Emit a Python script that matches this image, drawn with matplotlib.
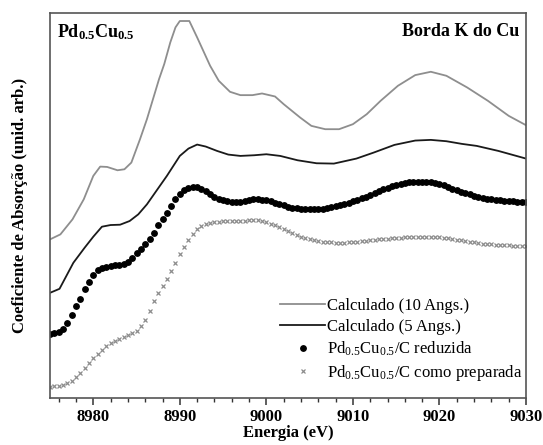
import numpy as np
import matplotlib
matplotlib.use("Agg")
import matplotlib.pyplot as plt
from matplotlib.ticker import MultipleLocator

plt.rcParams['font.family'] = ['Liberation Serif', 'DejaVu Serif']
plt.rcParams['mathtext.fontset'] = 'custom'
plt.rcParams['mathtext.rm'] = 'Liberation Serif'
plt.rcParams['mathtext.bf'] = 'Liberation Serif:bold'
plt.rcParams['mathtext.default'] = 'regular'

# ---- data (arbitrary absorption units) ----
e_calc10 = [8975, 8976.2, 8977.6, 8978.9, 8980, 8980.8, 8981.6, 8982.8, 8983.6, 8984.4,
            8985.4, 8986.2, 8986.9, 8987.6, 8988.2, 8988.9, 8989.5, 8990, 8991.1, 8992,
            8993.5, 8994.5, 8995.8, 8997, 8998.4, 8999.5, 9001, 9002, 9003.9, 9005.2,
            9006.8, 9008.4, 9010, 9011.6, 9013.2, 9015.2, 9017.2, 9019, 9020.8, 9023.2,
            9025.6, 9028, 9030]
v_calc10 = [475, 490, 535, 595, 665, 693, 692, 682, 685, 705,
            775, 835, 895, 955, 1000, 1065, 1110, 1129, 1129, 1080,
            995, 950, 917, 907, 907, 912, 903, 880, 840, 815,
            805, 805, 820, 850, 890, 935, 967, 977, 965, 930,
            890, 845, 817]

e_calc5 = [8975, 8976.1, 8977.7, 8979, 8980, 8981, 8982, 8983.1, 8984.2, 8985.2,
           8986.2, 8987.2, 8988.5, 8990, 8991, 8992, 8993, 8994.3, 8995.6, 8997,
           8998.6, 9000, 9001.6, 9003.6, 9005.8, 9007.8, 9010.4, 9012.4, 9014.8, 9017.2,
           9019, 9020.8, 9022.6, 9024.3, 9026.8, 9030]
v_calc5 = [315, 327, 405, 450, 483, 513, 518, 519, 530, 550,
           580, 617, 665, 725, 747, 759, 753, 740, 729, 725,
           727, 730, 725, 712, 703, 702, 717, 735, 758, 771,
           773, 769, 761, 755, 740, 717]

e_exp = np.arange(8975.0, 9030.01, 0.5)
v_reduzida = [193, 195, 199, 207, 225, 250, 275, 295, 325, 347,
              367, 383, 390, 393, 395, 397, 398, 401, 408, 418,
              433, 447, 460, 475, 495, 517, 535, 555, 575, 595,
              610, 622, 630, 633, 632, 627, 620, 611, 603, 597,
              592, 589, 587, 587, 588, 591, 594, 595, 595, 594,
              592, 589, 585, 581, 577, 573, 570, 568, 567, 566,
              566, 566, 567, 567, 569, 571, 574, 577, 581, 585,
              589, 593, 598, 603, 609, 615, 620, 625, 630, 634,
              638, 641, 644, 646, 647, 648, 648, 647, 646, 644,
              641, 637, 632, 627, 622, 618, 614, 610, 606, 603,
              600, 597, 595, 593, 592, 590, 589, 589, 588, 588,
              587]
v_preparada = [33, 35, 37, 40, 45, 52, 63, 75, 90, 105,
               120, 133, 145, 155, 164, 171, 177, 183, 188, 194,
               202, 215, 235, 260, 290, 315, 335, 355, 380, 405,
               430, 453, 473, 490, 505, 515, 520, 524, 526, 528,
               529, 530, 530, 530, 530, 531, 532, 533, 533, 531,
               527, 522, 517, 511, 505, 499, 493, 488, 483, 479,
               475, 472, 470, 468, 467, 466, 465, 465, 465, 466,
               467, 468, 469, 470, 472, 473, 475, 476, 477, 478,
               479, 480, 481, 482, 482, 483, 483, 483, 483, 482,
               481, 480, 478, 476, 474, 472, 470, 468, 466, 464,
               462, 461, 460, 459, 458, 457, 457, 456, 456, 455,
               455]

labels = ['Calculado (10 Angs.)', 'Calculado (5 Angs.)',
          r'Pd$_{0.5}$Cu$_{0.5}$/C reduzida', r'Pd$_{0.5}$Cu$_{0.5}$/C como preparada']

fig = plt.figure(figsize=(5.43, 4.45), dpi=100)
ax = fig.add_axes([50/543, 47/445, 476/543, 385/445])

ax.plot(e_calc10, v_calc10, color='#8e8e8e', lw=1.3, label=labels[0])
ax.plot(e_calc5, v_calc5, color='#1a1a1a', lw=1.3, label=labels[1])
ax.plot(e_exp, v_reduzida, linestyle='none', marker='o', ms=3.9, color='black',
        mec='black', label=labels[2])
ax.plot(e_exp, v_preparada, linestyle='none', marker='x', ms=3.5, mew=0.9,
        color='#8c8c8c', label=labels[3])

ax.set_xlim(8975, 9030)
ax.set_ylim(0, 1153)
ax.xaxis.set_major_locator(MultipleLocator(10))
ax.xaxis.set_minor_locator(MultipleLocator(2))
ax.tick_params(axis='x', which='major', direction='out', length=5, width=1.1,
               labelsize=12, pad=3, color='#333333')
ax.tick_params(axis='x', which='minor', direction='out', length=3, width=1.0,
               color='#333333')
for lab in ax.get_xticklabels():
    lab.set_fontweight('bold')
ax.set_yticks([])
for sp in ax.spines.values():
    sp.set_color('#555555')
    sp.set_linewidth(1.2)

ax.set_xlabel('Energia (eV)', fontsize=12, fontweight='bold', labelpad=0)
ax.set_ylabel('Coeficiente de Absorção (unid. arb.)', fontsize=12, fontweight='bold',
              labelpad=16)

ax.text(0.015, 0.975, r'Pd$_{0.5}$Cu$_{0.5}$', transform=ax.transAxes, ha='left',
        va='top', fontsize=13, fontweight='bold')
ax.text(0.985, 0.975, 'Borda K do Cu', transform=ax.transAxes, ha='right',
        va='top', fontsize=13, fontweight='bold')

leg = ax.legend(loc='upper left', bbox_to_anchor=(0.47, 0.278), frameon=False,
                fontsize=12, handlelength=2.7, handletextpad=0.1, labelspacing=0.3,
                borderaxespad=0, markerscale=1.0)

fig.savefig('out.png', dpi=100)
